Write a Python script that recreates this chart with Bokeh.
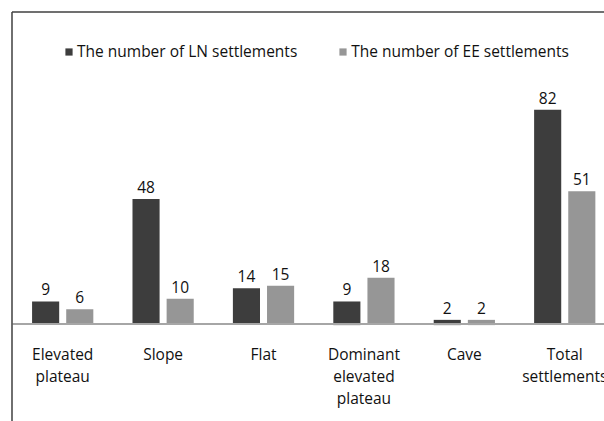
from bokeh.plotting import figure
from bokeh.models import Range1d, ColumnDataSource, Legend, LegendItem
from bokeh.core.properties import value
from bokeh.embed import file_html
from bokeh.resources import INLINE

categories = ["Elevated\nplateau", "Slope", "Flat", "Dominant\nelevated\nplateau", "Cave", "Total\nsettlements"]
ln_values = [9, 48, 14, 9, 2, 82]
ee_values = [6, 10, 15, 18, 2, 51]
series_names = ["The number of LN settlements", "The number of EE settlements"]

DARK = "#3d3d3d"
LIGHT = "#969696"
FONT = "Open Sans"
FS = "15.5px"

n = len(categories)
centers = [i + 0.5 for i in range(n)]
off = 0.17
bw = 0.27

p = figure(width=604, height=421, output_backend="svg", toolbar_location=None,
           x_range=Range1d(-0.1195, 5.896), y_range=Range1d(-36.7, 123.6),
           min_border=0, min_border_left=0, min_border_right=0,
           min_border_top=0, min_border_bottom=0)
p.xaxis.visible = False
p.yaxis.visible = False
p.grid.visible = False
p.outline_line_color = None
p.background_fill_color = "white"
p.border_fill_color = "white"

src = ColumnDataSource(dict(
    x_ln=[c - off for c in centers], x_ee=[c + off for c in centers],
    ln=ln_values, ee=ee_values,
    ln_lab=[str(v) for v in ln_values], ee_lab=[str(v) for v in ee_values]))

r1 = p.vbar(x="x_ln", top="ln", bottom=0, width=bw, source=src, fill_color=DARK, line_color=None)
r2 = p.vbar(x="x_ee", top="ee", bottom=0, width=bw, source=src, fill_color=LIGHT, line_color=None)

# category axis baseline
p.segment(x0=[0], y0=[0.4], x1=[n + 1], y1=[0.4], line_color="#a6a6a6", line_width=2)

# chart border (left and top)
p.segment(x0=[-0.005, -0.005], y0=[-60, 119.2], x1=[-0.005, n + 1], y1=[119.2, 119.2],
          line_color="#404040", line_width=1.5)

# value labels
for xcol, ycol, lab in (("x_ln", "ln", "ln_lab"), ("x_ee", "ee", "ee_lab")):
    p.text(x=xcol, y=ycol, text=lab, source=src, text_align="center",
           text_baseline="alphabetic", y_offset=-12, text_font=value(FONT),
           text_font_size=FS, text_color="#111111")

# category labels (one line at a time)
max_lines = max(len(c.split("\n")) for c in categories)
for k in range(max_lines):
    xs, ts = [], []
    for c, cx in zip(categories, centers):
        parts = c.split("\n")
        if k < len(parts):
            xs.append(cx)
            ts.append(parts[k])
    p.text(x=xs, y=[0] * len(xs), text=ts, text_align="center", text_baseline="alphabetic",
           y_offset=29 + 22 * k, text_font=value(FONT), text_font_size=FS,
           text_color="#111111")

legend = Legend(items=[LegendItem(label=series_names[0], renderers=[r1]),
                       LegendItem(label=series_names[1], renderers=[r2])],
                orientation="horizontal", location=(64, 359),
                glyph_width=9, glyph_height=9, label_standoff=4, spacing=41,
                padding=0, margin=0, border_line_color=None, background_fill_alpha=0,
                label_text_font=FONT, label_text_font_size=FS, label_text_color="#111111")
p.add_layout(legend, "center")

open("out.html", "w").write(file_html(p, INLINE))
